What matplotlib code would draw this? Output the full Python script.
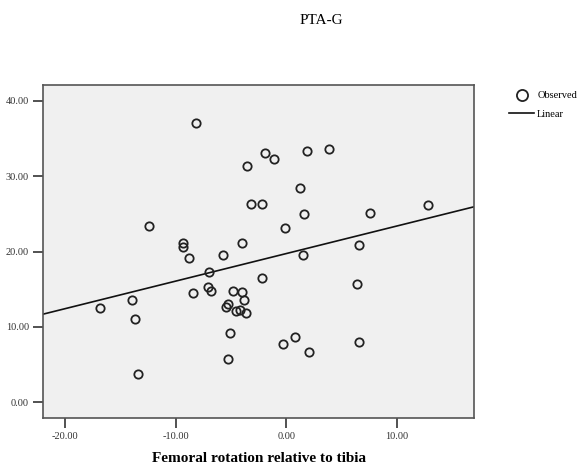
import numpy as np
import matplotlib
matplotlib.use("Agg")
import matplotlib.pyplot as plt
from matplotlib.lines import Line2D

title = "PTA-G"
xlabel = "Femoral rotation relative to tibia"

femoral_rotation = [-16.84, -13.92, -13.70, -13.43, -12.41, -9.31, -9.37, -8.80, -8.41, -8.14,
                    -6.99, -7.11, -6.81, -5.70, -5.30, -5.43, -5.09, -5.30, -4.82, -4.50,
                    -4.17, -4.01, -4.01, -3.77, -3.59, -3.50, -3.21, -2.20, -2.20, -1.90,
                    -1.09, -0.13, -0.28, 0.80, 1.29, 1.59, 1.50, 1.89, 2.10, 3.91,
                    6.41, 6.59, 6.59, 7.58, 12.82]
pta_g = [12.56, 13.53, 11.01, 3.71, 23.38, 21.08, 20.56, 19.10, 14.50, 37.00,
         17.28, 15.29, 14.80, 19.50, 13.04, 12.64, 9.19, 5.70, 14.80, 12.11,
         12.20, 21.17, 14.59, 13.53, 11.88, 31.34, 26.34, 26.34, 16.45, 33.06,
         32.23, 23.08, 7.77, 8.70, 28.42, 24.93, 19.58, 33.33, 6.71, 33.63,
         15.65, 20.82, 8.00, 25.07, 26.17]

x_ticks = [-20, -10, 0, 10]
y_ticks = [0, 10, 20, 30, 40]
legend_labels = ["Observed", "Linear"]

x = np.array(femoral_rotation)
y = np.array(pta_g)
slope, intercept = np.polyfit(x, y, 1)

fig = plt.figure(figsize=(5.84, 4.66), dpi=100)
ax = fig.add_axes([43/584, 1-418/466, (474-43)/584, (418-85)/466])
ax.set_facecolor("#F0F0F0")
ax.set_xlim(-22, 17)
ax.set_ylim(-2.1, 42.1)

xl = np.array(ax.get_xlim())
ax.plot(xl, intercept + slope*xl, color="#111111", lw=1.2, zorder=2)
ax.plot(x, y, linestyle="none", marker="o", markersize=6, markerfacecolor="none",
        markeredgecolor="#222222", markeredgewidth=1.3, zorder=3)

ax.set_xticks(x_ticks)
ax.set_xticklabels([f"{v:.2f}" for v in x_ticks])
ax.set_yticks(y_ticks)
ax.set_yticklabels([f"{v:.2f}" for v in y_ticks])
ax.tick_params(axis="both", direction="out", length=7, width=1.2, color="#333333",
               labelsize=7.5, labelcolor="#333333", pad=3)
for lbl in ax.get_xticklabels() + ax.get_yticklabels():
    lbl.set_family("Liberation Serif")
for s in ax.spines.values():
    s.set_color("#555555")
    s.set_linewidth(1.2)

ax.set_xlabel(xlabel, family="Liberation Serif", fontweight="bold", fontsize=11, labelpad=8)
fig.text(321/584, 1-20/466, title, family="Liberation Serif", fontsize=11,
         ha="center", va="center")

handles = [Line2D([], [], linestyle="none", marker="o", markersize=8, markerfacecolor="none",
                  markeredgecolor="#222222", markeredgewidth=1.3),
           Line2D([], [], color="#111111", lw=1.2)]
fig.legend(handles, legend_labels, loc="upper left", bbox_to_anchor=(509/584, 1-91/466),
           frameon=False, prop={"family": "Liberation Serif", "size": 7.5},
           handlelength=2.4, handletextpad=0.3, labelspacing=0.9, borderaxespad=0, borderpad=0)

fig.savefig("out.png", dpi=100)
